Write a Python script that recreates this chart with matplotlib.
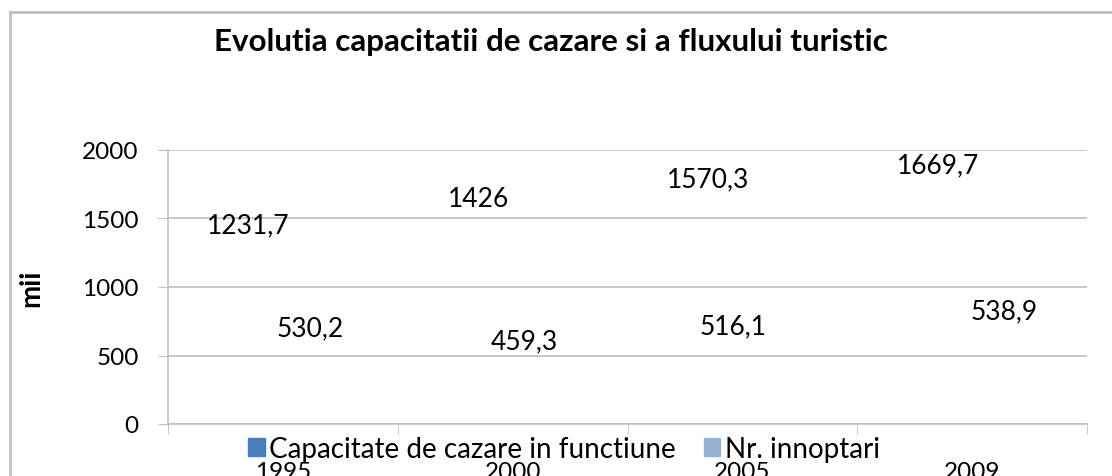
import numpy as np
import matplotlib.pyplot as plt
import matplotlib.patches as mpatches
from matplotlib.lines import Line2D

plt.rcParams['font.family'] = ['Lato', 'DejaVu Sans']

# date: capacitate de cazare si innoptari (mii)
ani = ['1995', '2000', '2005', '2009']
capacitate = [1231.7, 1426, 1570.3, 1669.7]
innoptari = [530.2, 459.3, 516.1, 538.9]
etichete_cap = ['1231,7', '1426', '1570,3', '1669,7']
etichete_inn = ['530,2', '459,3', '516,1', '538,9']

# deplasarea etichetelor fata de varful coloanei (pixeli)
dx_cap = [0, 0, 0, 0]
dy_cap = [30, 30, 30, 30]
dx_inn = [-7, -23, -44, -2]
dy_inn = [24, 20, 27, 39]

culoare_cap = '#4a7ebb'
culoare_inn = '#95b3d7'
gri = '#bfbfbf'

fig = plt.figure(figsize=(11.12, 4.77), dpi=100)
ax = fig.add_axes([168/1112, 1 - 425/477, 919/1112, 274/477])

x = np.arange(len(ani))
w = 0.3
# coloanele nu se vad in grafic, raman doar etichetele
b1 = ax.bar(x - w/2, capacitate, w, color=culoare_cap, visible=False)
b2 = ax.bar(x + w/2, innoptari, w, color=culoare_inn, visible=False)

for i in range(len(ani)):
    ax.annotate(etichete_cap[i], (x[i] - w/2, capacitate[i]),
                xytext=(dx_cap[i], dy_cap[i]), textcoords='offset pixels',
                ha='center', va='center', fontsize=19)
    ax.annotate(etichete_inn[i], (x[i] + w/2, innoptari[i]),
                xytext=(dx_inn[i], dy_inn[i]), textcoords='offset pixels',
                ha='center', va='center', fontsize=19)

ax.set_xlim(-0.5, 3.5)
ax.set_ylim(0, 2000)
ax.set_yticks([0, 500, 1000, 1500, 2000])
ax.set_xticks(x)
ax.set_xticklabels(ani)
ax.set_xticks(np.arange(-0.5, 4, 1), minor=True)
ax.tick_params(axis='x', which='major', length=0, pad=27, labelsize=17.5)
ax.tick_params(axis='x', which='minor', length=7, color=gri)
ax.tick_params(axis='y', length=7, color=gri, pad=14, labelsize=17.5)

ax.grid(axis='y', color=gri, linewidth=1.2)
ax.set_axisbelow(True)
for s in ['top', 'right']:
    ax.spines[s].set_visible(False)
for s in ['left', 'bottom']:
    ax.spines[s].set_color(gri)
    ax.spines[s].set_linewidth(1.2)

fig.text(551/1112, 1 - 42/477, 'Evolutia capacitatii de cazare si a fluxului turistic',
         ha='center', va='center', fontsize=22.6, fontweight='bold')
fig.text(31/1112, 1 - 288/477, 'mii', rotation=90, ha='center', va='center',
         fontsize=20, fontweight='bold')

handles = [mpatches.Patch(color=culoare_cap, label='Capacitate de cazare in functiune'),
           mpatches.Patch(color=culoare_inn, label='Nr. innoptari')]
leg = fig.legend(handles=handles, loc='center', bbox_to_anchor=(564/1112, 1 - 450/477),
                 ncol=2, frameon=False, fontsize=20, handlelength=0.6, handleheight=0.6,
                 handletextpad=0.15, columnspacing=1.0, borderpad=0)
leg.set_zorder(10)

# chenarul graficului
fig.add_artist(Line2D([10/1112, 10/1112], [0, 1 - 13/477], color=gri, lw=2))
fig.add_artist(Line2D([10/1112, 1], [1 - 13/477, 1 - 13/477], color=gri, lw=2))

fig.savefig('out.png', dpi=100)
